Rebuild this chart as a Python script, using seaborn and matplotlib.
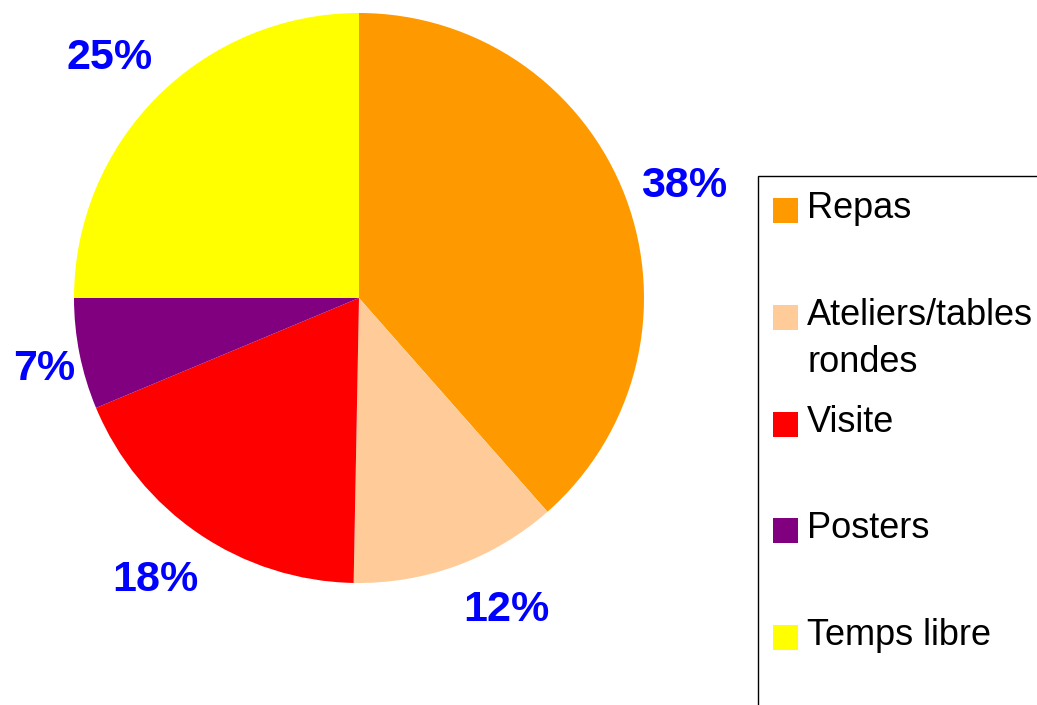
import matplotlib
matplotlib.use("Agg")
import matplotlib.pyplot as plt
import matplotlib.patches as mpatches
import numpy as np
import seaborn as sns

categories = ["Repas", "Ateliers/tables\nrondes", "Visite", "Posters", "Temps libre"]
# slice sizes as drawn in the original picture
values = [38.5, 11.8, 18.4, 6.3, 25.0]
# percentage labels printed on the original
pct_labels = ["38%", "12%", "18%", "7%", "25%"]
colors = ["#FF9900", "#FFCC99", "#FF0000", "#800080", "#FFFF00"]

# label placement (radius multiple, angle in degrees) as laid out in the original
label_dist = [1.21, 1.20, 1.21, 1.13, 1.225]
label_angle = [19.6, -64.4, -126.2, -167.8, 135.7]

sns.set_theme(style="white")
plt.rcParams["font.family"] = ["Liberation Sans", "DejaVu Sans"]

W, H = 1037, 705
fig = plt.figure(figsize=(W / 100, H / 100), dpi=100)
fig.patch.set_facecolor("white")

cx, cy, r = 359, 298, 285
ax = fig.add_axes([(cx - r) / W, (H - cy - r) / H, 2 * r / W, 2 * r / H])
wedges, texts = ax.pie(
    values, colors=colors, startangle=90, counterclock=False,
    labels=pct_labels, labeldistance=1.21, frame=False,
    wedgeprops=dict(linewidth=0),
    textprops=dict(color="#0000FF", fontsize=31, fontweight="bold"),
)
for t, d, a in zip(texts, label_dist, label_angle):
    t.set_position((d * np.cos(np.radians(a)), d * np.sin(np.radians(a)) - 0.012))
    t.set_ha("center")
    t.set_va("center")
ax.set_xlim(-1, 1)
ax.set_ylim(-1, 1)
ax.set_aspect("equal")
ax.axis("off")


def fx(px):
    return px / W


def fy(py):
    return 1 - py / H


# legend box (extends past the right and bottom edges as in the original)
box = mpatches.Rectangle((fx(757.5), fy(720)), fx(1060) - fx(757.5), fy(175.5) - fy(720),
                         transform=fig.transFigure, fill=False, edgecolor="black",
                         linewidth=1.0, clip_on=False)
fig.patches.append(box)

baselines = [218, 325, 432, 538, 645]
for lab, col, bl in zip(categories, colors, baselines):
    sq = mpatches.Rectangle((fx(773), fy(bl + 4.8)), fx(798) - fx(773), fy(bl - 20.5) - fy(bl + 4.8),
                            transform=fig.transFigure, facecolor=col, edgecolor="none")
    fig.patches.append(sq)
    for i, line in enumerate(lab.split("\n")):
        fig.text(fx(807), fy(bl + 47 * i), line, fontsize=26, color="black",
                 ha="left", va="baseline")

fig.savefig("out.png", dpi=100)
